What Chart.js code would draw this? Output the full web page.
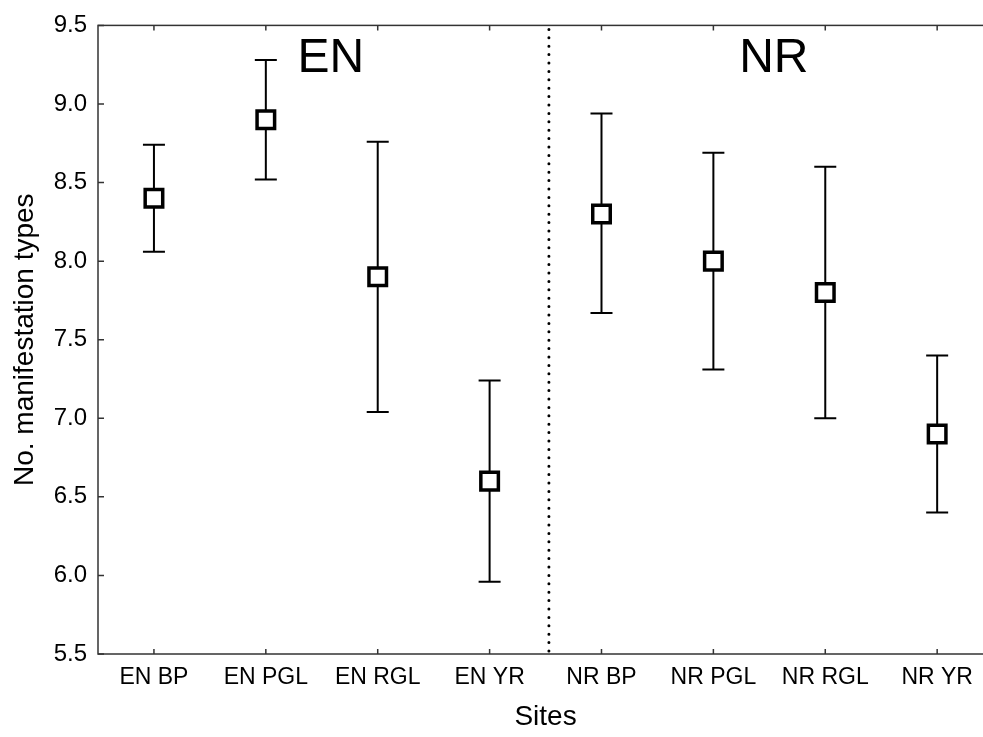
<!DOCTYPE html>
<html>
<head>
<meta charset="utf-8">
<script src="https://cdn.jsdelivr.net/npm/chart.js@4.4.1/dist/chart.umd.min.js"></script>
<style>
    html, body { margin: 0; padding: 0; background: #fff; overflow: hidden; }
    canvas { display: block; }
</style>
</head>
<body>
<canvas id="chart" width="1009" height="737"></canvas>
<script>
// Sites and mean number of manifestation types with interval bounds
const sites = ['EN BP', 'EN PGL', 'EN RGL', 'EN YR', 'NR BP', 'NR PGL', 'NR RGL', 'NR YR'];
const means = [8.4, 8.9, 7.9, 6.6, 8.3, 8.0, 7.8, 6.9];
const upper = [8.74, 9.28, 8.76, 7.24, 8.94, 8.69, 8.60, 7.40];
const lower = [8.06, 8.52, 7.04, 5.96, 7.67, 7.31, 7.00, 6.40];

const yTicks = [5.5, 6.0, 6.5, 7.0, 7.5, 8.0, 8.5, 9.0, 9.5];

// Group captions, placed in category units
const groupNames = ['EN', 'NR'];
const groupPos = [1.58, 5.54];
const groupY = 9.29;
const dividerAt = 3.53;

const FONT = "'Liberation Sans', Arial, sans-serif";

// Pixel for a fractional category index
function xAt(scale, v) {
    const i = Math.floor(v);
    const a = scale.getPixelForValue(i);
    const b = scale.getPixelForValue(i + 1);
    return a + (b - a) * (v - i);
}

// Frame, inner ticks, error bars, divider and group captions
const decorPlugin = {
    id: 'decor',
    beforeDatasetsDraw(chart) {
        const ctx = chart.ctx;
        const area = chart.chartArea;
        const x = chart.scales.x;
        const y = chart.scales.y;

        ctx.save();

        // frame
        ctx.strokeStyle = '#333';
        ctx.lineWidth = 1.5;
        ctx.strokeRect(area.left, area.top, area.right - area.left, area.bottom - area.top);

        // inner tick marks
        ctx.beginPath();
        sites.forEach((s, i) => {
            const px = x.getPixelForValue(i);
            ctx.moveTo(px, area.bottom);
            ctx.lineTo(px, area.bottom - 5);
            ctx.moveTo(px, area.top);
            ctx.lineTo(px, area.top + 5);
        });
        yTicks.forEach(v => {
            const py = y.getPixelForValue(v);
            ctx.moveTo(area.left, py);
            ctx.lineTo(area.left + 6, py);
            ctx.moveTo(area.right, py);
            ctx.lineTo(area.right - 6, py);
        });
        ctx.stroke();

        // dotted divider between the two groups
        const dx = xAt(x, dividerAt);
        ctx.strokeStyle = '#000';
        ctx.lineWidth = 3;
        ctx.lineCap = 'round';
        ctx.setLineDash([0, 8.4]);
        ctx.beginPath();
        ctx.moveTo(dx, area.top + 4);
        ctx.lineTo(dx, area.bottom);
        ctx.stroke();
        ctx.setLineDash([]);
        ctx.lineCap = 'butt';

        // error bars
        ctx.strokeStyle = '#000';
        ctx.lineWidth = 2;
        sites.forEach((s, i) => {
            const px = x.getPixelForValue(i);
            const top = y.getPixelForValue(upper[i]);
            const bot = y.getPixelForValue(lower[i]);
            ctx.beginPath();
            ctx.moveTo(px, top);
            ctx.lineTo(px, bot);
            ctx.moveTo(px - 11, top);
            ctx.lineTo(px + 11, top);
            ctx.moveTo(px - 11, bot);
            ctx.lineTo(px + 11, bot);
            ctx.stroke();
        });

        // group captions
        ctx.fillStyle = '#000';
        ctx.font = '48px ' + FONT;
        ctx.textAlign = 'center';
        ctx.textBaseline = 'middle';
        groupNames.forEach((g, i) => {
            ctx.fillText(g, xAt(x, groupPos[i]), y.getPixelForValue(groupY));
        });

        ctx.restore();
    }
};

new Chart(document.getElementById('chart'), {
    type: 'line',
    data: {
        labels: sites,
        datasets: [{
            data: means,
            showLine: false,
            pointStyle: 'rect',
            pointRadius: 12.4,
            pointBorderWidth: 3.5,
            pointBackgroundColor: '#fff',
            pointBorderColor: '#000'
        }]
    },
    options: {
        responsive: false,
        animation: false,
        events: [],
        layout: {
            padding: { top: 19, right: 3, left: 0, bottom: 0 }
        },
        plugins: {
            legend: { display: false },
            tooltip: { enabled: false }
        },
        scales: {
            x: {
                type: 'category',
                offset: true,
                grid: { display: false, drawTicks: false },
                border: { display: false },
                ticks: {
                    color: '#000',
                    font: { family: FONT, size: 23 },
                    padding: 10,
                    maxRotation: 0,
                    autoSkip: false
                },
                title: {
                    display: true,
                    text: 'Sites',
                    color: '#000',
                    font: { family: FONT, size: 28 },
                    padding: { top: 0, bottom: 3 }
                },
                afterFit(scale) { scale.height = 83; }
            },
            y: {
                min: 5.5,
                max: 9.5,
                grid: { display: false, drawTicks: false },
                border: { display: false },
                afterBuildTicks(scale) {
                    scale.ticks = yTicks.map(v => ({ value: v }));
                },
                ticks: {
                    color: '#000',
                    font: { family: FONT, size: 24 },
                    padding: 11,
                    callback: v => Number(v).toFixed(1)
                },
                title: {
                    display: true,
                    text: 'No. manifestation types',
                    color: '#000',
                    font: { family: FONT, size: 28 },
                    padding: { top: 8, bottom: 0 }
                },
                afterFit(scale) { scale.width = 98; }
            }
        }
    },
    plugins: [decorPlugin]
});
</script>
</body>
</html>
